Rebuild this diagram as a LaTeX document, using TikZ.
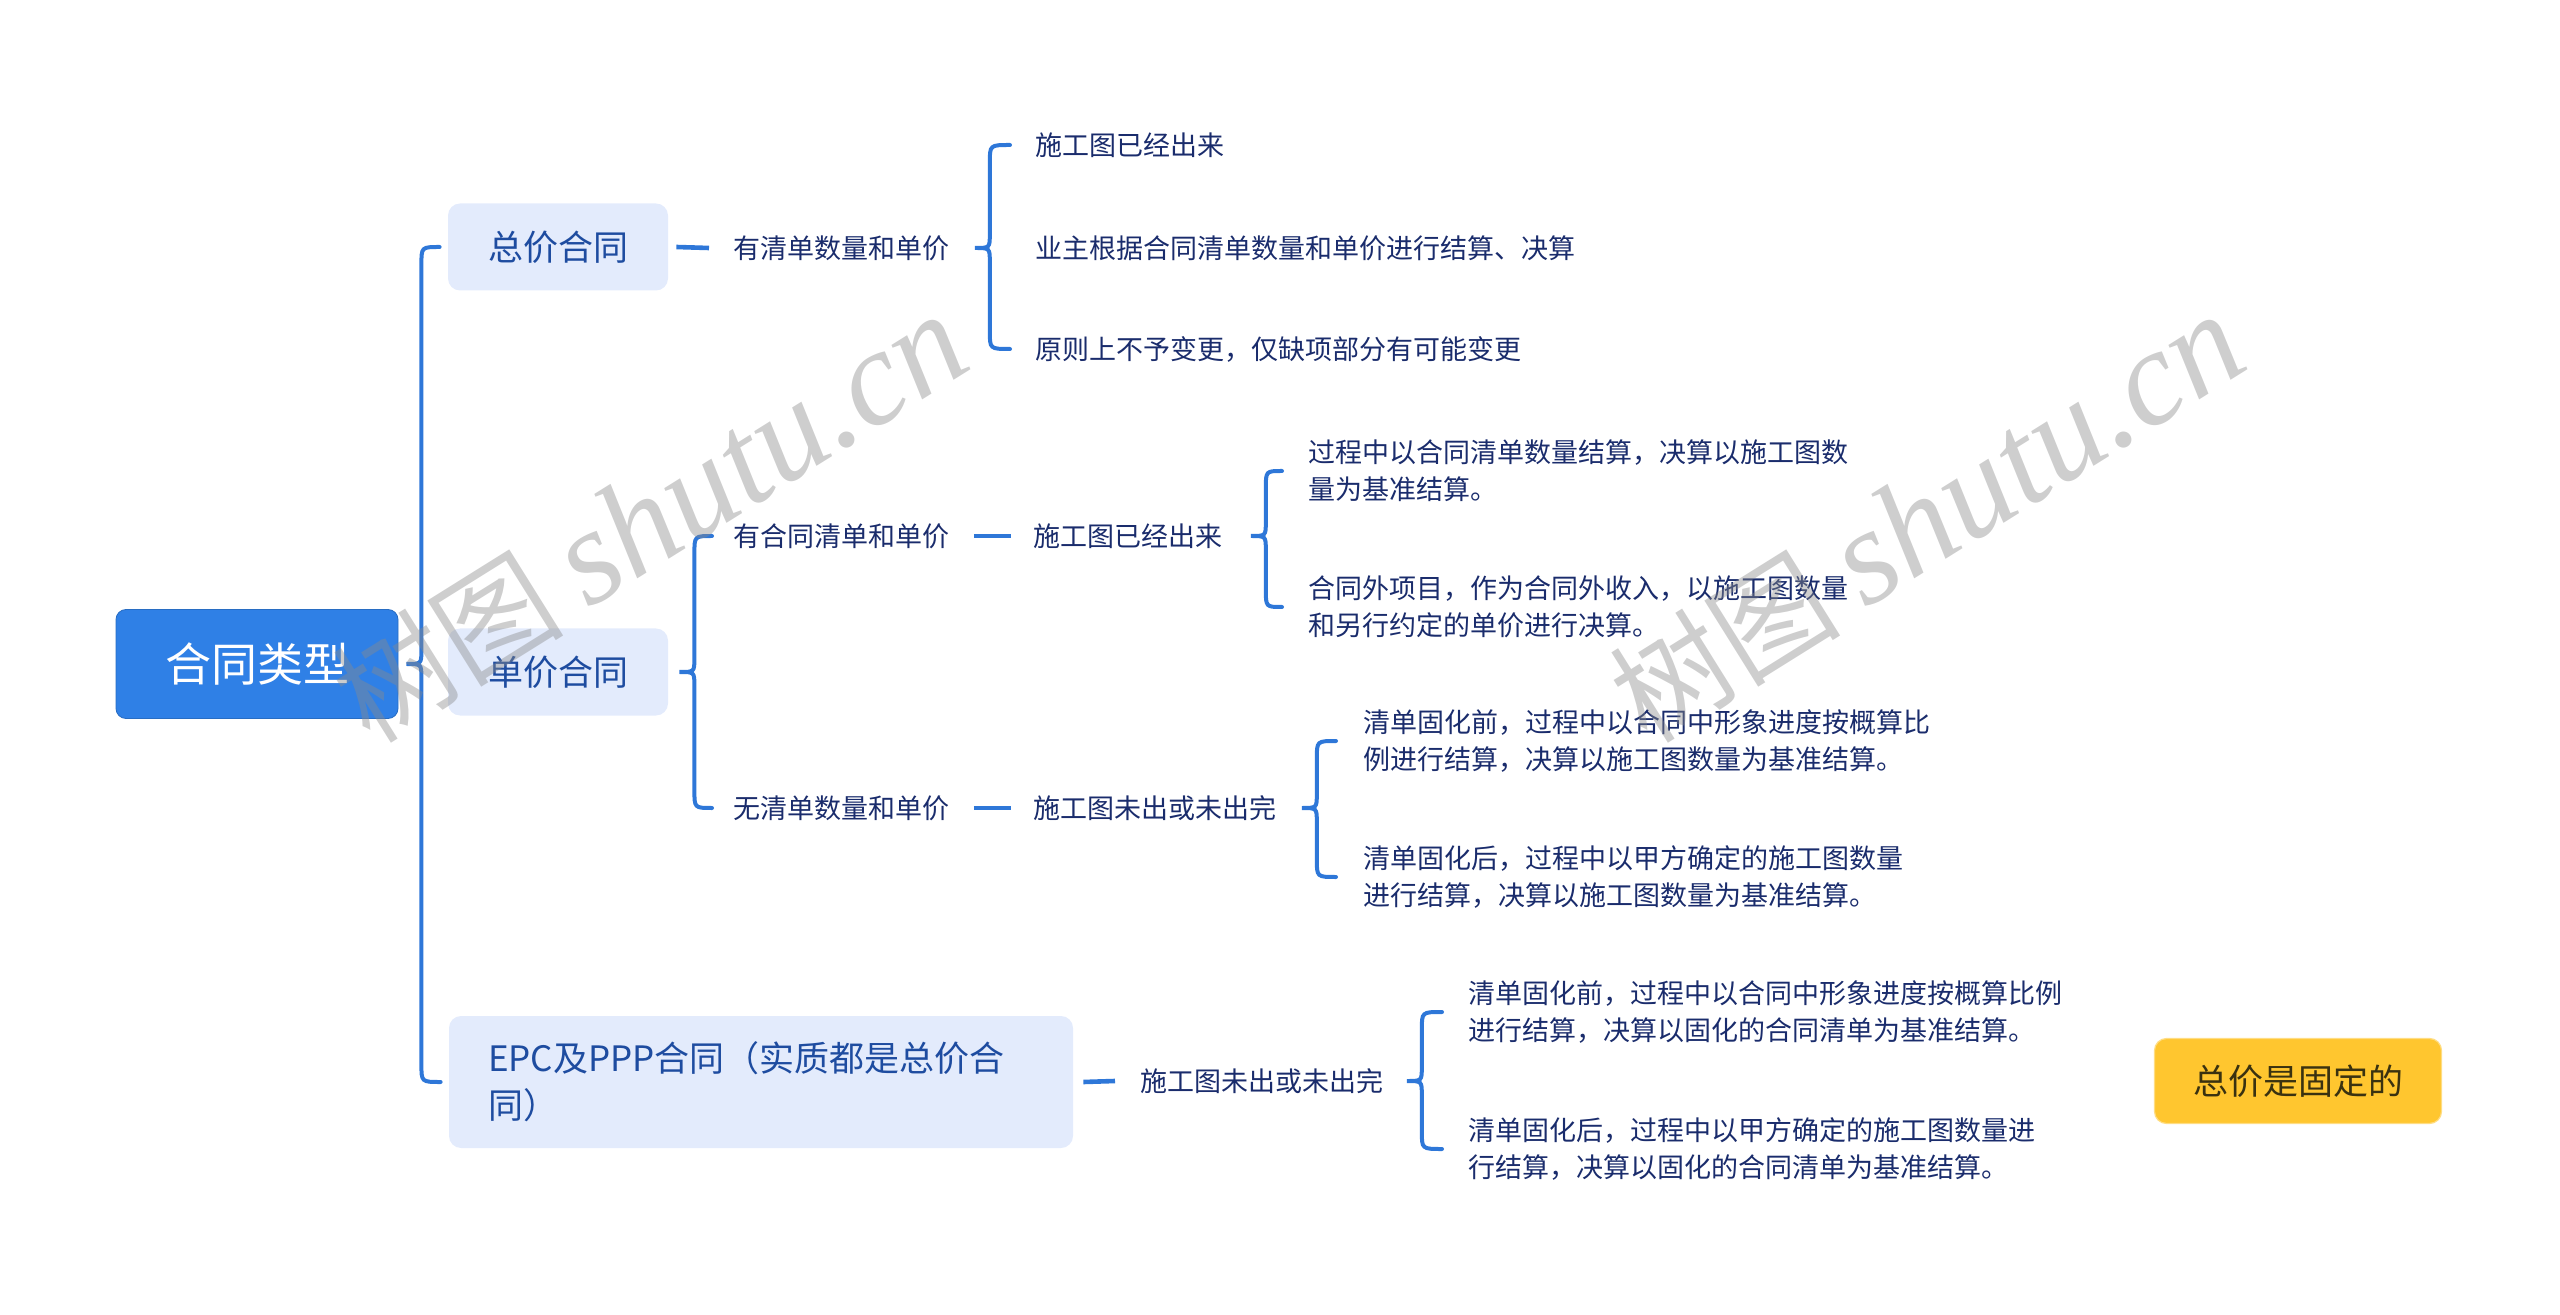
\documentclass[tikz,border=0pt]{standalone}
\usepackage{fontspec}
\setmainfont{Noto Sans CJK SC}
\newfontfamily\wmlatin{Liberation Serif}
\usetikzlibrary{calc}
\definecolor{linec}{HTML}{2E77D8}
\definecolor{rootc}{HTML}{2F80E6}
\definecolor{l1c}{HTML}{E3EBFC}
\definecolor{l1t}{HTML}{1E4CA0}
\definecolor{leaft}{HTML}{1A2C6C}
\definecolor{notec}{HTML}{FFC62F}
\definecolor{notet}{HTML}{3A3210}
\definecolor{wmc}{HTML}{8A8A8A}
\newcommand\mybrace[3]{%
  \draw[conn] let \p1=(#1), \p2=(#2), \p3=(#3) in
   (\x2,\y2) .. controls (\x1+7.5pt,\y2) .. (\x1+7.5pt,\y2-9pt)
   -- (\x1+7.5pt,\y1+7pt) .. controls (\x1+7.5pt,\y1) .. (\x1,\y1)
   .. controls (\x1+7.5pt,\y1) .. (\x1+7.5pt,\y1-7pt)
   -- (\x1+7.5pt,\y3+9pt) .. controls (\x1+7.5pt,\y3) .. (\x3,\y3);}
\tikzset{
  conn/.style={draw=linec, line width=2pt, line cap=round},
  dashc/.style={draw=linec, line width=2.3pt},
  rootbox/.style={fill=rootc, draw=rootc!85!black, line width=0.4pt, rounded corners=5pt, minimum width=141pt, minimum height=54.5pt, text=white, font=\fontsize{23pt}{28pt}\selectfont, inner sep=0pt},
  lonebox/.style={fill=l1c, rounded corners=6pt, minimum width=110pt, minimum height=43.5pt, text=l1t, font=\fontsize{17.5pt}{23.5pt}\selectfont, inner sep=0pt},
  midtxt/.style={anchor=west, inner sep=0pt, text=leaft, font=\fontsize{13.5pt}{18.5pt}\selectfont},
  leaf/.style={midtxt, align=left},
  notebox/.style={fill=notec, draw=notec!60!white, line width=0.6pt, rounded corners=6pt, minimum width=143.5pt, minimum height=42.5pt, text=notet, font=\fontsize{17.5pt}{22pt}\selectfont, inner sep=0pt},
  wm/.style={text=wmc, text opacity=0.42, inner sep=0pt, rotate=32}
}
\begin{document}
\begin{tikzpicture}[x=0.5pt,y=-0.5pt]
\useasboundingbox (0,0) rectangle (2560,1315);
% root and level 1
\node[rootbox] (root) at (257,664) {合同类型};
\node[lonebox] (zj) at (558,247) {总价合同};
\node[lonebox] (dj) at (558,672) {单价合同};
\node[lonebox, minimum width=312pt, minimum height=66pt, inner xsep=19.5pt, text width=273pt, align=left, font=\fontsize{17.5pt}{23.5pt}\selectfont] (epc) at (761,1082) {EPC及PPP合同（实质都是总价合\\同）};
% level 2
\node[midtxt] (a1) at (733,248) {有清单数量和单价};
\node[midtxt] (b1) at (733,536) {有合同清单和单价};
\node[midtxt] (b2) at (733,808) {无清单数量和单价};
\node[midtxt] (b1c) at (1033,536) {施工图已经出来};
\node[midtxt] (b2c) at (1033,808) {施工图未出或未出完};
\node[midtxt] (ec) at (1140,1081) {施工图未出或未出完};
% leaves
\node[leaf] (a1l1) at (1035,145) {施工图已经出来};
\node[leaf] (a1l2) at (1035,248) {业主根据合同清单数量和单价进行结算、决算};
\node[leaf] (a1l3) at (1035,349) {原则上不予变更，仅缺项部分有可能变更};
\node[leaf] (b1l1) at (1308,471) {过程中以合同清单数量结算，决算以施工图数\\量为基准结算。};
\node[leaf] (b1l2) at (1308,607) {合同外项目，作为合同外收入，以施工图数量\\和另行约定的单价进行决算。};
\node[leaf] (b2l1) at (1363,741) {清单固化前，过程中以合同中形象进度按概算比\\例进行结算，决算以施工图数量为基准结算。};
\node[leaf] (b2l2) at (1363,877) {清单固化后，过程中以甲方确定的施工图数量\\进行结算，决算以施工图数量为基准结算。};
\node[leaf] (el1) at (1468,1012) {清单固化前，过程中以合同中形象进度按概算比例\\进行结算，决算以固化的合同清单为基准结算。};
\node[leaf] (el2) at (1468,1149) {清单固化后，过程中以甲方确定的施工图数量进\\行结算，决算以固化的合同清单为基准结算。};
% floating note
\node[notebox] (note) at (2298,1081) {总价是固定的};
% braces
\mybrace{[xshift=4pt]root.east}{[xshift=-4pt]zj.west}{[xshift=-4pt]epc.west}
\mybrace{[xshift=12.5pt]a1.east}{[xshift=-12.5pt]a1l1.west}{[xshift=-12.5pt]a1l3.west}
\mybrace{[xshift=5.5pt]dj.east}{[xshift=-10.5pt]b1.west}{[xshift=-10.5pt]b2.west}
\mybrace{[xshift=14pt]b1c.east}{[xshift=-13pt]b1l1.west}{[xshift=-13pt]b1l2.west}
\mybrace{[xshift=12.5pt]b2c.east}{[xshift=-13.5pt]b2l1.west}{[xshift=-13.5pt]b2l2.west}
\mybrace{[xshift=11.5pt]ec.east}{[xshift=-13pt]el1.west}{[xshift=-13pt]el2.west}
% short connectors
\draw[dashc] ([xshift=4pt]zj.east) -- ([xshift=-12pt]a1.west);
\draw[dashc] ([xshift=12pt]b1.east) -- ([xshift=-11pt]b1c.west);
\draw[dashc] ([xshift=12pt]b2.east) -- ([xshift=-11pt]b2c.west);
\draw[dashc] ([xshift=5pt]epc.east) -- ([xshift=-12.5pt]ec.west);
% watermarks
\node[wm] (wm1) at (650,519) {\fontsize{58pt}{60pt}\selectfont 树图 {\wmlatin\itshape\fontsize{68pt}{70pt}\selectfont shutu.cn}};
\node[wm] (wm2) at (1927,519) {\fontsize{58pt}{60pt}\selectfont 树图 {\wmlatin\itshape\fontsize{68pt}{70pt}\selectfont shutu.cn}};
\end{tikzpicture}
\end{document}
